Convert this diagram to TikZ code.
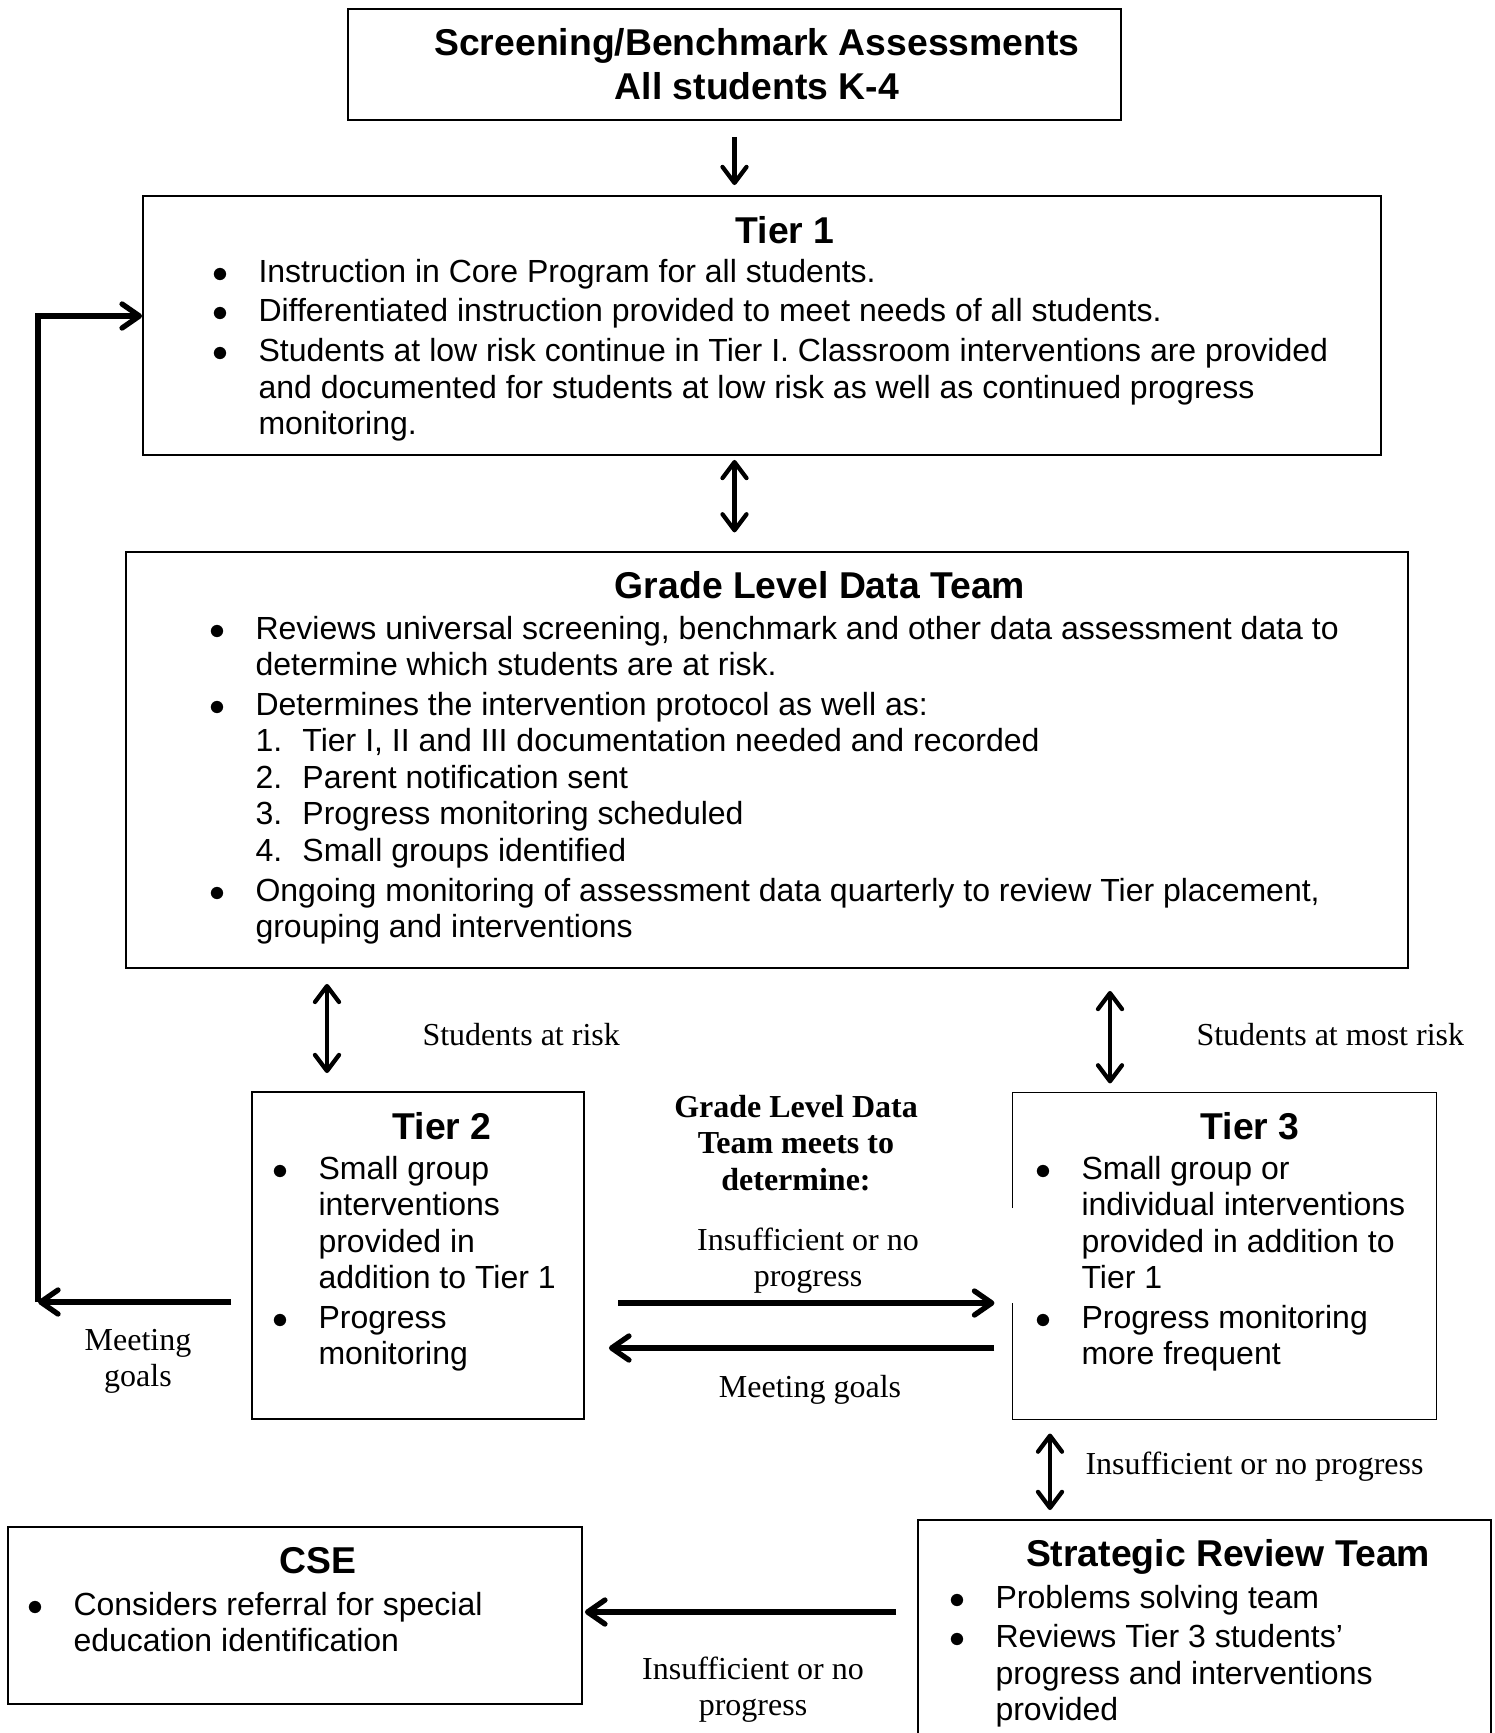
\documentclass[tikz,border=0pt]{standalone}
\usepackage{fontspec}
\setmainfont{Liberation Sans}
\newfontfamily\tnr{Liberation Serif}
\usetikzlibrary{arrows.meta,fit}
\newcommand\bl{\makebox[16.5pt][l]{\hspace*{-0.9pt}$\bullet$}}
\newcommand\ind{\hspace*{16.5pt}}
\newcommand\nm[1]{\makebox[17.6pt][l]{#1}}
\begin{document}
\begin{tikzpicture}[x=0.375pt,y=-0.375pt,
  box/.style={draw, line width=0.7pt, inner sep=0pt},
  frameline/.style={line width=0.7pt},
  body/.style={inner sep=0pt, anchor=base west, font=\fontsize{12}{13.7}\selectfont},
  head/.style={inner sep=0pt, anchor=base, font=\fontsize{14}{16.5}\selectfont\bfseries},
  lbl/.style={inner sep=0pt, font=\tnr\fontsize{12}{13.7}\selectfont},
  tipA/.tip={Straight Barb[length=6pt,width=9pt,round]},
  tipB/.tip={Straight Barb[length=6.5pt,width=9pt,round]},
  sarr/.style={line width=1.6pt, -tipA},
  darr/.style={line width=1.6pt, tipA-tipA},
  tarr/.style={line width=2pt, -tipB},
  loopline/.style={line width=2pt}]
\useasboundingbox (0,0) rectangle (1495,1733);

% boxes
\node[box, fit={(348,9) (1121,120)}] (scr) {};
\node[box, fit={(143,196) (1381,455)}] (t1) {};
\node[box, fit={(126,552) (1408,968)}] (gl) {};
\node[box, fit={(252,1092) (584,1419)}] (t2) {};
\node[inner sep=0pt, fit={(1013,1093) (1436,1419)}] (t3) {};
\node[box, fit={(8,1527) (582,1704)}] (cse) {};
\begin{scope}
\clip (0,0) rectangle (1495,1733);
\node[box, fit={(918,1520) (1491,1760)}] (srt) {};
\end{scope}

% Tier 3 outline with its gap on the left side
\coordinate (g1) at (0,1208);
\coordinate (g2) at (0,1303);
\draw[frameline] (t3.west |- g1) -- (t3.north west) -- (t3.north east)
  -- (t3.south east) -- (t3.south west) -- (t3.west |- g2);

% texts in boxes
\node[head] (scrh) at (757,55) {\begin{tabular}[t]{@{}c@{}}Screening/Benchmark Assessments\\All students K-4\end{tabular}};

\node[head] (t1h) at (785,243) {Tier 1};
\node[body] (t1b) at (214,282) {\begin{tabular}[t]{@{}l@{}}
\bl Instruction in Core Program for all students.\\[1.2pt]
\bl Differentiated instruction provided to meet needs of all students.\\[1.2pt]
\bl Students at low risk continue in Tier I. Classroom interventions are provided\\
\ind and documented for students at low risk as well as continued progress\\
\ind monitoring.
\end{tabular}};

\node[head] (glh) at (820,598) {Grade Level Data Team};
\node[body] (glb) at (211,639) {\begin{tabular}[t]{@{}l@{}}
\bl Reviews universal screening, benchmark and other data assessment data to\\
\ind determine which students are at risk.\\[1.2pt]
\bl Determines the intervention protocol as well as:\\
\ind\nm{1.}Tier I, II and III documentation needed and recorded\\
\ind\nm{2.}Parent notification sent\\
\ind\nm{3.}Progress monitoring scheduled\\
\ind\nm{4.}Small groups identified\\[1.2pt]
\bl Ongoing monitoring of assessment data quarterly to review Tier placement,\\
\ind grouping and interventions
\end{tabular}};

\node[head] (t2h) at (442,1139) {Tier 2};
\node[body] (t2b) at (274,1179) {\begin{tabular}[t]{@{}l@{}}
\bl Small group\\
\ind interventions\\
\ind provided in\\
\ind addition to Tier 1\\[1.2pt]
\bl Progress\\
\ind monitoring
\end{tabular}};

\node[head] (t3h) at (1250,1139) {Tier 3};
\node[body] (t3b) at (1037,1179) {\begin{tabular}[t]{@{}l@{}}
\bl Small group or\\
\ind individual interventions\\
\ind provided in addition to\\
\ind Tier 1\\[1.2pt]
\bl Progress monitoring\\
\ind more frequent
\end{tabular}};

\node[head] (cseh) at (318,1573) {CSE};
\node[body] (cseb) at (29,1615) {\begin{tabular}[t]{@{}l@{}}
\bl Considers referral for special\\
\ind education identification
\end{tabular}};

\node[head] (srth) at (1228,1566) {Strategic Review Team};
\node[body] (srtb) at (951,1608) {\begin{tabular}[t]{@{}l@{}}
\bl Problems solving team\\[1.2pt]
\bl Reviews Tier 3 students’\\
\ind progress and interventions\\
\ind provided
\end{tabular}};

% labels
\node[lbl, anchor=base west] (la) at (422,1045) {Students at risk};
\node[lbl, anchor=base west] (lb) at (1196,1045) {Students at most risk};
\node[lbl, anchor=base] (lc) at (796,1117) {\bfseries\begin{tabular}[t]{@{}c@{}}Grade Level Data\\Team meets to\\determine:\end{tabular}};
\node[lbl, anchor=base] (ld) at (808,1250) {\begin{tabular}[t]{@{}c@{}}Insufficient or no\\progress\end{tabular}};
\node[lbl, anchor=base] (le) at (810,1397) {Meeting goals};
\node[lbl, anchor=base] (lf) at (138,1350) {\begin{tabular}[t]{@{}c@{}}Meeting\\goals\end{tabular}};
\node[lbl, anchor=base west] (lg) at (1085,1474) {Insufficient or no progress};
\node[lbl, anchor=base] (lh) at (753,1679) {\begin{tabular}[t]{@{}c@{}}Insufficient or no\\progress\end{tabular}};

% helper coordinates for connector positions
\coordinate (x2) at (327,0);
\coordinate (x3) at (1110,0);
\coordinate (x4) at (1050,0);
\coordinate (ya) at (0,1303);
\coordinate (yb) at (0,1348);
\coordinate (yc) at (0,1612);
\coordinate (yl) at (0,316);
\coordinate (lp) at (38,1302);

% vertical connectors
\draw[sarr, shorten <=6pt, shorten >=3.75pt] (scr.south) -- (scr.south |- t1.north);
\draw[darr, shorten <=1.5pt, shorten >=7pt] (scr.south |- t1.south) -- (scr.south |- gl.north);
\draw[darr, shorten <=5.6pt, shorten >=6.75pt] (x2 |- gl.south) -- (x2 |- t2.north);
\draw[darr, shorten <=8.25pt, shorten >=3.4pt] (x3 |- gl.south) -- (x3 |- t3.north);
\draw[darr, shorten <=5.25pt, shorten >=3.4pt] (x4 |- t3.south) -- (x4 |- srt.north);

% horizontal connectors
\draw[tarr, shorten <=12.4pt, shorten >=6.75pt] (t2.east |- ya) -- (t3.west |- ya);
\draw[tarr, shorten <=6.75pt, shorten >=9pt] (t3.west |- yb) -- (t2.east |- yb);
\draw[tarr, shorten <=7.5pt] (t2.west |- lp) -- (lp);
\draw[loopline] (lp) -- (lp |- yl);
\draw[tarr] ([xshift=-1pt]lp |- yl) -- (t1.west |- yl);
\draw[tarr, shorten <=7.9pt, shorten >=0.75pt] (srt.west |- yc) -- (cse.east |- yc);
\end{tikzpicture}
\end{document}
